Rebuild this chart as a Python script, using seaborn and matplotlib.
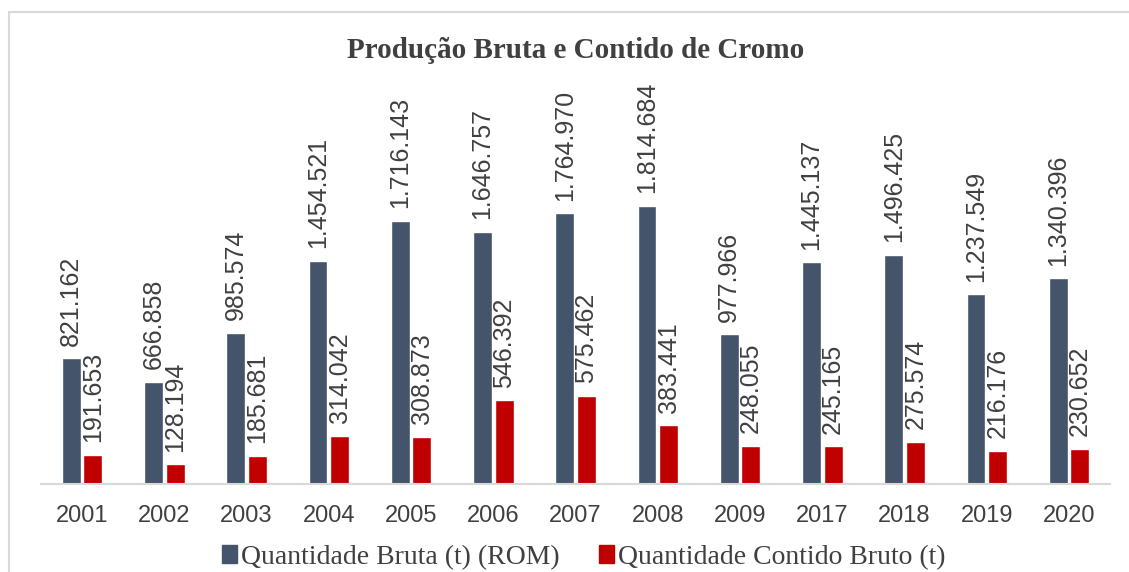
import pandas as pd
import seaborn as sns
import matplotlib.pyplot as plt
from matplotlib.lines import Line2D

# Dados
anos = ["2001", "2002", "2003", "2004", "2005", "2006", "2007", "2008", "2009", "2017", "2018", "2019", "2020"]
bruta = [821162, 666858, 985574, 1454521, 1716143, 1646757, 1764970, 1814684, 977966, 1445137, 1496425, 1237549, 1340396]
contido = [191653, 128194, 185681, 314042, 308873, 546392, 575462, 383441, 248055, 245165, 275574, 216176, 230652]
series = ["Quantidade Bruta (t) (ROM)", "Quantidade Contido Bruto (t)"]
cores = {series[0]: "#44546A", series[1]: "#C00000"}

df = pd.DataFrame({
    "Ano": anos * 2,
    "Serie": [series[0]] * len(anos) + [series[1]] * len(anos),
    "Valor": bruta + contido,
})

sns.set_style("white")
plt.rcParams['font.family'] = ['Liberation Sans', 'DejaVu Sans']
texto = "#404040"

fig = plt.figure(figsize=(11.29, 5.72), dpi=100)
ax = fig.add_axes([0.0363, 0.1538, 0.947, 0.7238])

sns.barplot(data=df, x="Ano", y="Valor", hue="Serie", palette=cores,
            width=0.526, gap=0.125, saturation=1, ax=ax)

# rótulos com separador de milhar em ponto
for cont, vals in zip(ax.containers, [bruta, contido]):
    rot = [f"{v:,}".replace(",", ".") for v in vals]
    ax.bar_label(cont, labels=rot, rotation=90, padding=9, fontsize=18, color=texto)

ax.set_ylim(0, 2.7e6)
ax.set_xlim(-0.5, len(anos) - 0.5)
ax.set_xlabel("")
ax.set_ylabel("")
ax.set_yticks([])
ax.tick_params(axis="x", length=0, labelsize=17, colors=texto, pad=15)
for s in ["top", "right", "left"]:
    ax.spines[s].set_visible(False)
ax.spines["bottom"].set_color("#D9D9D9")
ax.spines["bottom"].set_linewidth(1.5)

fig.text(0.51, 0.912, "Produção Bruta e Contido de Cromo", ha="center", va="center",
         fontsize=21, fontweight="bold", family="Liberation Serif", color=texto)

ax.legend_.remove()
handles = [plt.Rectangle((0, 0), 1, 1, color=cores[s]) for s in series]
leg = fig.legend(handles, series, loc="center", bbox_to_anchor=(0.517, 0.026), ncol=2,
                 frameon=False, prop={"family": "Liberation Serif", "size": 20},
                 handlelength=0.55, handleheight=0.6, handletextpad=0.15, columnspacing=1.4)
for t in leg.get_texts():
    t.set_color(texto)

# moldura do gráfico
fig.add_artist(Line2D([0.008, 1.0], [0.979, 0.979], transform=fig.transFigure, color="#D9D9D9", lw=1.5))
fig.add_artist(Line2D([0.008, 0.008], [0.0, 0.979], transform=fig.transFigure, color="#D9D9D9", lw=1.5))

fig.savefig("out.png", dpi=100)
